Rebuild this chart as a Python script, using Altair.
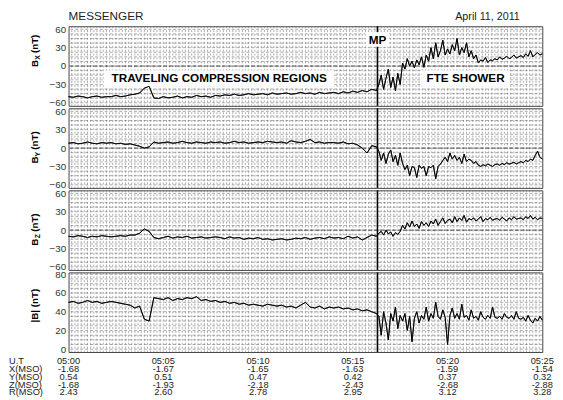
import altair as alt
import pandas as pd

# ---------------- data ----------------
# sampling: every 15 s before the magnetopause, every 7.5 s after it (minutes after 05:00)
t_pre = [0.25 * i for i in range(66)]
t_post = [16.375 + 0.125 * k for k in range(70)]

bx_pre = [-50, -51, -49, -50, -52, -50, -49, -51, -50, -50, -48, -50, -49, -47,
          -46, -44, -36, -33, -52, -53,
          -50, -52, -51, -49, -52, -50, -51, -48, -50, -49, -51, -48,
          -49, -47, -48, -46, -48, -47, -45, -47, -46, -45, -47, -44,
          -46, -45, -44, -46, -45, -43, -45, -44, -46, -43, -45, -44,
          -43, -45, -42, -44, -41, -43, -40, -42, -38, -40]
bx_post = [-30, -15, -38, -20, -5, -35, -18, -40, -12, -30,
           5, -5, 12, 0, 8, -3, 10, 2, 15, -2,
           18, 8, 30, 12, 38, 15, 25, 42, 18, 28,
           20, 35, 25, 45, 18, 30, 22, 38, 15, 25,
           12, 18, 5, 10, 8, 14, 6, 10, 9, 12,
           10, 15, 11, 13, 16, 12, 14, 18, 13, 15,
           17, 14, 20, 16, 25, 15, 19, 22, 18, 20]

by_pre = [8, 9, 7, 8, 10, 8, 7, 9, 8, 9, 7, 8, 6, 7,
          5, 3, 0, 2, 10, 8,
          9, 10, 8, 9, 11, 9, 8, 10, 9, 8, 10, 9,
          10, 8, 9, 11, 9, 10, 8, 9, 10, 9, 11, 10,
          9, 10, 8, 12, 10, 9, 11, 14, 9, 10, 8, 9,
          9, 8, 10, 7, 8, 5, 0, -8, 4, 2]
by_post = [-5, -20, -8, -25, -10, -3, -22, -12, -28, -8,
           -25, -35, -28, -45, -30, -32, -48, -28, -33, -30,
           -45, -30, -32, -28, -50, -30, -26, -20, -15, -22,
           -8, -18, -12, -20, -15, -25, -10, -22, -18, -20,
           -25, -22, -28, -30, -27, -29, -26, -28, -30, -27,
           -26, -28, -25, -27, -24, -26, -25, -23, -26, -24,
           -22, -24, -20, -22, -18, -20, -12, -5, -15, -18]

bz_pre = [-10, -11, -9, -10, -12, -10, -11, -9, -10, -11, -10, -9, -10, -8,
          -8, -5, 2, -2, -12, -14,
          -12, -10, -13, -11, -12, -10, -13, -12, -11, -13, -12, -11,
          -12, -14, -11, -13, -12, -15, -13, -14, -12, -15, -14, -16,
          -15, -14, -16, -15, -13, -14, -12, -15, -13, -12, -14, -11,
          -13, -12, -14, -10, -13, -11, -16, -12, -8, -10]
bz_post = [-5, -2, -8, 0, -6, -3, -10, -4, -7, -2,
           8, 2, 12, 5, 15, 6, 10, 3, 14, 8,
           12, 6, 15, 10, 18, 8, 14, 20, 11, 16,
           18, 12, 22, 14, 20, 16, 24, 13, 19, 17,
           20, 15, 18, 22, 14, 19, 17, 21, 16, 18,
           19, 16, 21, 18, 15, 20, 17, 22, 18, 19,
           20, 17, 22, 19, 24, 18, 21, 17, 20, 19]

bt_pre = [50, 51, 49, 50, 52, 50, 51, 49, 50, 51, 50, 49, 48, 47,
          44, 46, 32, 30, 55, 54,
          53, 55, 52, 54, 53, 55, 54, 56, 52, 53, 51, 52,
          50, 51, 49, 50, 48, 49, 47, 48, 47, 46, 48, 47,
          46, 47, 45, 46, 44, 47, 50, 45, 44, 46, 43, 45,
          44, 45, 43, 44, 42, 43, 41, 42, 40, 38]
bt_post = [35, 15, 40, 28, 10, 38, 30, 45, 22, 36,
           30, 38, 20, 35, 8, 33, 40, 28, 36, 32,
           45, 30, 38, 33, 50, 35, 32, 42, 34, 5,
           36, 44, 33, 38, 32, 48, 34, 36, 31, 42,
           33, 35, 31, 40, 34, 32, 36, 33, 45, 34,
           33, 35, 32, 38, 34, 33, 36, 32, 40, 33,
           32, 34, 30, 36, 31, 28, 33, 30, 35, 31]

mp_time = [16.3]

tick_minutes = [0, 5, 10, 15, 20, 25]
ut_labels = ["05:00", "05:05", "05:10", "05:15", "05:20", "05:25"]
x_mso = ["-1.68", "-1.67", "-1.65", "-1.63", "-1.59", "-1.54"]
y_mso = ["0.54", "0.51", "0.47", "0.42", "0.37", "0.32"]
z_mso = ["-1.68", "-1.93", "-2.18", "-2.43", "-2.68", "-2.88"]
r_mso = ["2.43", "2.60", "2.78", "2.95", "3.12", "3.28"]
row_names = ["U.T", "X(MSO)", "Y(MSO)", "Z(MSO)", "R(MSO)"]

bcomp_ticks = [60, 30, 0, -30, -60]
bmag_ticks = [80, 60, 40, 20, 0]

df = pd.DataFrame({
    "t": t_pre + t_post,
    "bx": bx_pre + bx_post,
    "by": by_pre + by_post,
    "bz": bz_pre + bz_post,
    "bt": bt_pre + bt_post,
})

# ---------------- styling ----------------
W, H = 485, 81.5
FONT = "Liberation Sans"
NARROW = "Liberation Sans Narrow, Liberation Sans"
x_grid = pd.DataFrame({"g": [i / 6 for i in range(1, 150)]})
x_scale = alt.Scale(domain=[0, 25], nice=False, zero=False)
GRID_COLOR = "#666"


def title_layers(sub, center):
    parts = []
    if sub is None:
        parts.append(alt.Chart(pd.DataFrame({"s": ["|B| (nT)"]})).mark_text(
            angle=270, font=FONT, fontSize=10, fontWeight="bold", align="center",
            baseline="middle").encode(text="s:N", x=alt.value(-34), y=alt.value(center)))
        return parts
    parts.append(alt.Chart(pd.DataFrame({"s": ["B"]})).mark_text(
        angle=270, font=FONT, fontSize=10, fontWeight="bold", align="center",
        baseline="middle").encode(text="s:N", x=alt.value(-34), y=alt.value(center + 13)))
    parts.append(alt.Chart(pd.DataFrame({"s": [sub]})).mark_text(
        angle=270, font=FONT, fontSize=7, fontWeight="bold", align="center",
        baseline="middle").encode(text="s:N", x=alt.value(-31), y=alt.value(center + 7)))
    parts.append(alt.Chart(pd.DataFrame({"s": ["(nT)"]})).mark_text(
        angle=270, font=FONT, fontSize=10, fontWeight="bold", align="center",
        baseline="middle").encode(text="s:N", x=alt.value(-34), y=alt.value(center - 7)))
    return parts


def make_y_axis(label_vals):
    return alt.Axis(values=label_vals, ticks=False, domain=False, grid=False,
                    title=None, labelPadding=3, labelOverlap=False)


def panel(field, domain, hgrid_vals, label_vals, sub, tcenter, extra_before=None,
          extra_after=None, zero_line=True):
    yscale = alt.Scale(domain=domain, nice=False, zero=False)
    yax = make_y_axis(label_vals)
    base = alt.Chart(df).mark_line(color="black", strokeWidth=0.9).encode(
        x=alt.X("t:Q", scale=x_scale, axis=None),
        y=alt.Y(f"{field}:Q", scale=yscale, axis=yax),
    )
    vgrid = alt.Chart(x_grid).mark_rule(color=GRID_COLOR, strokeDash=[2, 2], strokeWidth=0.8,
                                        opacity=0.7).encode(x=alt.X("g:Q", scale=x_scale, axis=None))
    hgrid = alt.Chart(pd.DataFrame({f"{field}": hgrid_vals})).mark_rule(
        color=GRID_COLOR, strokeDash=[3, 2], strokeWidth=0.8, opacity=0.7).encode(
        y=alt.Y(f"{field}:Q", scale=yscale, axis=yax))
    layers = [base, vgrid, hgrid]
    if zero_line:
        layers.append(alt.Chart(pd.DataFrame({f"{field}": [0]})).mark_rule(
            color="#444", strokeDash=[4, 2], strokeWidth=0.9).encode(
            y=alt.Y(f"{field}:Q", scale=yscale, axis=yax)))
    layers.append(alt.Chart(pd.DataFrame({"t": mp_time})).mark_rule(
        color="black", strokeWidth=1.6).encode(x=alt.X("t:Q", scale=x_scale, axis=None)))
    if extra_before:
        layers += extra_before
    layers.append(base)
    if extra_after:
        layers += extra_after
    layers += title_layers(sub, tcenter)
    return alt.layer(*layers).properties(width=W, height=H)


bcomp_grid = [-60 + 7.5 * i for i in range(17)]
bmag_grid = [5 * i for i in range(17)]


def white_box(x1, x2, y1, y2):
    return alt.Chart(pd.DataFrame({"a": [0]})).mark_rect(color="white").encode(
        x=alt.value(x1), x2=alt.value(x2), y=alt.value(y1), y2=alt.value(y2))


def label_text(t, v, s, size=12, weight="bold", align="center"):
    return alt.Chart(pd.DataFrame({"t": [t], "bx": [v], "s": [s]})).mark_text(
        font=FONT, fontSize=size, fontWeight=weight, align=align, baseline="middle",
        color="black").encode(
        x=alt.X("t:Q", scale=x_scale, axis=None),
        y=alt.Y("bx:Q", scale=alt.Scale(domain=[-65, 65], nice=False, zero=False),
                axis=make_y_axis(bcomp_ticks)),
        text="s:N")


p1_before = [white_box(36, 272, 45, 62), white_box(304, 328, 6, 21), white_box(362, 451, 45, 62)]
p1_after = [
    label_text(7.95, -20, "TRAVELING COMPRESSION REGIONS"),
    label_text(20.95, -20, "FTE SHOWER"),
    label_text(16.3, 42, "MP"),
    alt.Chart(pd.DataFrame({"s": ["MESSENGER"]})).mark_text(
        font=FONT, fontSize=12, align="left", baseline="alphabetic", color="#222").encode(
        text="s:N", x=alt.value(0), y=alt.value(-6)),
    alt.Chart(pd.DataFrame({"s": ["April 11, 2011"]})).mark_text(
        font=FONT, fontSize=11, align="right", baseline="alphabetic", color="#222").encode(
        text="s:N", x=alt.value(462), y=alt.value(-6)),
]

p1 = panel("bx", [-65, 65], bcomp_grid, bcomp_ticks, "X", 25, p1_before, p1_after)
p2 = panel("by", [-65, 65], bcomp_grid, bcomp_ticks, "Y", 40)
p3 = panel("bz", [-65, 65], bcomp_grid, bcomp_ticks, "Z", 40)

# bottom coordinate table
rows = [ut_labels, x_mso, y_mso, z_mso, r_mso]
row_y = [H + 9, H + 17.5, H + 25.5, H + 33.5, H + 41.5]
table_layers = []
for vals, yy, name in zip(rows, row_y, row_names):
    table_layers.append(alt.Chart(pd.DataFrame({"t": tick_minutes, "s": vals})).mark_text(
        font=NARROW, fontSize=9.5, align="center", baseline="middle", color="#222").encode(
        x=alt.X("t:Q", scale=x_scale, axis=None), y=alt.value(yy), text="s:N"))
    table_layers.append(alt.Chart(pd.DataFrame({"s": [name]})).mark_text(
        font=NARROW, fontSize=9.5, align="left", baseline="middle", color="#222").encode(
        x=alt.value(-61), y=alt.value(yy), text="s:N"))

p4 = panel("bt", [-3, 82], bmag_grid, bmag_ticks, None, 34,
           extra_after=table_layers, zero_line=False)

chart = alt.vconcat(p1, p2, p3, p4, spacing=2, bounds="flush").properties(
    padding={"left": 0, "top": -3, "right": 0, "bottom": 0},
).configure_view(stroke="#444", strokeWidth=1).configure_axis(
    labelFont=FONT, labelFontSize=10, labelColor="#333"
)

chart.save("out.html", embed_options={"renderer": "svg", "actions": False})
